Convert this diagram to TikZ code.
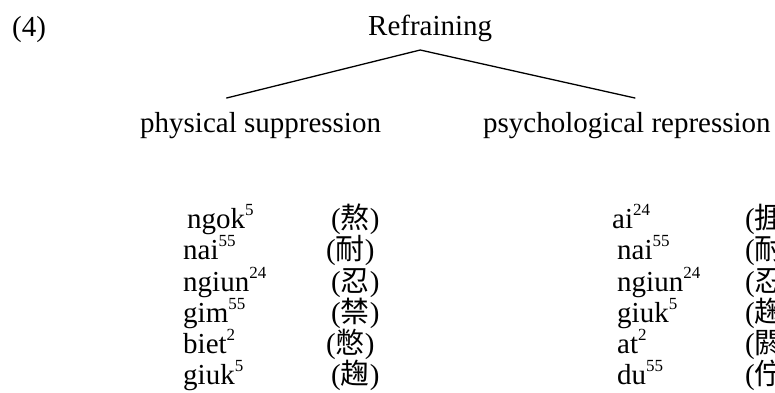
\documentclass[tikz,border=0pt]{standalone}
\usepackage{fontspec}
\setmainfont{Liberation Serif}
\newfontfamily\cjk{Noto Sans CJK TC}
\usetikzlibrary{calc}
\newcommand{\tone}[1]{\raisebox{0.42em}{\fontsize{17}{17}\selectfont #1}}

\begin{document}
\begin{tikzpicture}[x=1pt,y=-1pt,
  word/.style={anchor=base west,inner sep=0pt,font=\fontsize{29}{31}\selectfont},
  branch/.style={line width=1.3pt,line cap=round,line join=miter}]
\useasboundingbox (0,0) rectangle (775,392);

% The example number and the top of the tree.
\node[word] (num) at (12,36) {(4)};
\node[word] (root) at (368,35) {Refraining};
\node[word] (phys) at (140,132) {physical suppression};
\node[word] (psych) at (483,132) {psychological repression};

% Where the branches meet and end.
\coordinate (apex) at ($(root.base)+(-10,15)$);
\coordinate (physEnd) at ($(phys.base)+(-34,-34)$);
\coordinate (psychEnd) at ($(psych.base)+(8,-34)$);
\draw[branch] (physEnd) -- (apex) -- (psychEnd);

% Words under physical suppression.
\node[word] (pa) at (187,228) {ngok\tone{5}};
\node[word] (pb) at (183,259) {nai\tone{55}};
\node[word] (pc) at (183,291) {ngiun\tone{24}};
\node[word] (pd) at (183,322) {gim\tone{55}};
\node[word] (pe) at (183,353) {biet\tone{2}};
\node[word] (pf) at (183,384) {giuk\tone{5}};

\node[word] (ca) at (331,228) {({\cjk 熬})};
\node[word] (cb) at (326,259) {({\cjk 耐})};
\node[word] (cc) at (331,291) {({\cjk 忍})};
\node[word] (cd) at (331,322) {({\cjk 禁})};
\node[word] (ce) at (326,353) {({\cjk 憋})};
\node[word] (cf) at (331,384) {({\cjk 趜})};

% Words under psychological repression.
\node[word] (qa) at (612,228) {ai\tone{24}};
\node[word] (qb) at (617,259) {nai\tone{55}};
\node[word] (qc) at (617,291) {ngiun\tone{24}};
\node[word] (qd) at (617,322) {giuk\tone{5}};
\node[word] (qe) at (617,353) {at\tone{2}};
\node[word] (qf) at (617,384) {du\tone{55}};

\node[word] (da) at (745,228) {({\cjk 捱})};
\node[word] (db) at (745,259) {({\cjk 耐})};
\node[word] (dc) at (745,291) {({\cjk 忍})};
\node[word] (dd) at (745,322) {({\cjk 趜})};
\node[word] (de) at (745,353) {({\cjk 閼})};
\node[word] (df) at (745,384) {({\cjk 佇})};

\end{tikzpicture}
\end{document}
